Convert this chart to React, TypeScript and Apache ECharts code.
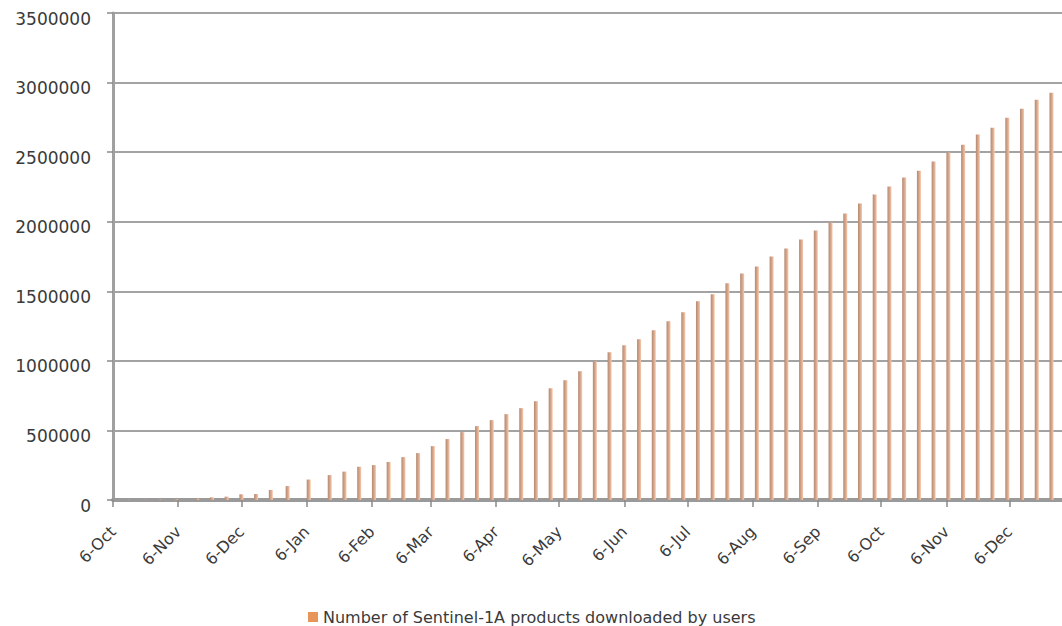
import React, { useEffect, useRef } from "react";
import * as echarts from "echarts";

// ---- Data ----
const startDate = "2014-10-06";
const endDate = "2015-12-31";

const barDates: string[] = [
  "2014-10-13", "2014-10-21", "2014-10-28", "2014-11-05", "2014-11-15", "2014-11-22",
  "2014-11-29", "2014-12-06", "2014-12-13", "2014-12-20", "2014-12-28", "2015-01-07",
  "2015-01-17", "2015-01-24", "2015-01-31", "2015-02-07", "2015-02-14", "2015-02-21",
  "2015-02-28", "2015-03-07", "2015-03-14", "2015-03-21", "2015-03-28", "2015-04-04",
  "2015-04-11", "2015-04-18", "2015-04-25", "2015-05-02", "2015-05-09", "2015-05-16",
  "2015-05-23", "2015-05-30", "2015-06-06", "2015-06-13", "2015-06-20", "2015-06-27",
  "2015-07-04", "2015-07-11", "2015-07-18", "2015-07-25", "2015-08-01", "2015-08-08",
  "2015-08-15", "2015-08-22", "2015-08-29", "2015-09-05", "2015-09-12", "2015-09-19",
  "2015-09-26", "2015-10-03", "2015-10-10", "2015-10-17", "2015-10-24", "2015-10-31",
  "2015-11-07", "2015-11-14", "2015-11-21", "2015-11-28", "2015-12-05", "2015-12-12",
  "2015-12-19", "2015-12-26",
];

const downloads: number[] = [
  1000, 1500, 3000, 6000, 10000, 19000,
  24000, 41000, 44000, 72000, 100000, 147000,
  179000, 204000, 239000, 251000, 273000, 308000,
  337000, 387000, 438000, 488000, 531000, 574000,
  617000, 660000, 710000, 803000, 861000, 925000,
  997000, 1062000, 1112000, 1155000, 1220000, 1284000,
  1349000, 1428000, 1478000, 1557000, 1628000, 1679000,
  1750000, 1808000, 1872000, 1937000, 1994000, 2059000,
  2131000, 2195000, 2253000, 2317000, 2367000, 2432000,
  2497000, 2554000, 2626000, 2676000, 2748000, 2812000,
  2877000, 2927000,
];

const tickDates: string[] = [
  "2014-10-06", "2014-11-06", "2014-12-06", "2015-01-06", "2015-02-06",
  "2015-03-06", "2015-04-06", "2015-05-06", "2015-06-06", "2015-07-06",
  "2015-08-06", "2015-09-06", "2015-10-06", "2015-11-06", "2015-12-06",
];
const tickLabels: string[] = [
  "6-Oct", "6-Nov", "6-Dec", "6-Jan", "6-Feb", "6-Mar", "6-Apr", "6-May",
  "6-Jun", "6-Jul", "6-Aug", "6-Sep", "6-Oct", "6-Nov", "6-Dec",
];

const seriesName = "Number of Sentinel-1A products downloaded by users";

const DAY = 86400000;
const dayOf = (s: string) =>
  Math.round((Date.parse(s + "T00:00:00Z") - Date.parse(startDate + "T00:00:00Z")) / DAY);

export default function App() {
  const ref = useRef<HTMLDivElement>(null);

  useEffect(() => {
    if (!ref.current) return;
    const chart = echarts.init(ref.current, null, { renderer: "svg" });
    const tickDays = tickDates.map(dayOf);
    const labelMap: Record<number, string> = {};
    tickDays.forEach((d, i) => (labelMap[d] = tickLabels[i]));
    const font = "'DejaVu Sans', 'Lucida Grande', sans-serif";

    chart.setOption({
      animation: false,
      backgroundColor: "#ffffff",
      grid: { left: 113, right: 0, top: 13, bottom: 126, containLabel: false },
      legend: {
        data: [{ name: seriesName, itemStyle: { color: "#e8955a" } }],
        left: 303,
        top: 604,
        itemWidth: 10,
        itemHeight: 10,
        itemGap: 6,
        icon: "rect",
        textStyle: { fontFamily: font, fontSize: 16, color: "#3a3a3a" },
      },
      xAxis: {
        type: "value",
        min: 0,
        max: dayOf(endDate),
        splitLine: { show: false },
        axisLine: { show: true, lineStyle: { color: "#9a9a9a", width: 4 } },
        axisTick: {
          show: true,
          customValues: tickDays,
          length: 7,
          lineStyle: { color: "#8a8a8a", width: 1.5 },
        },
        axisLabel: {
          customValues: tickDays,
          rotate: 45,
          margin: 29,
          fontFamily: font,
          fontSize: 16,
          color: "#3a3a3a",
          formatter: (v: number) => labelMap[Math.round(v)] ?? "",
        },
      },
      yAxis: {
        type: "value",
        min: 0,
        max: 3500000,
        interval: 500000,
        axisLine: { show: true, lineStyle: { color: "#a0a0a0", width: 3 } },
        axisTick: { show: true, length: 6, lineStyle: { color: "#8a8a8a", width: 1.5 } },
        splitLine: { show: true, lineStyle: { color: "#a3a3a3", width: 2 } },
        axisLabel: {
          margin: 22,
          formatter: (v: number) => `{a|${String(v)}}`,
          rich: {
            a: {
              fontFamily: font,
              fontSize: 17,
              color: "#3a3a3a",
              padding: [11, 0, 0, 0],
            },
          },
        },
      },
      series: [
        {
          name: seriesName,
          type: "bar",
          barWidth: 4,
          data: barDates.map((d, i) => [dayOf(d), downloads[i]]),
          itemStyle: {
            color: new echarts.graphic.LinearGradient(0, 0, 1, 0, [
              { offset: 0, color: "#b28a74" },
              { offset: 0.5, color: "#d4a489" },
              { offset: 1, color: "#f8c9ac" },
            ]),
          },
        },
      ],
    });

    return () => chart.dispose();
  }, []);

  return (
    <div
      ref={ref}
      style={{ position: "fixed", left: 0, top: 0, width: 1062, height: 626, background: "#fff" }}
    />
  );
}
